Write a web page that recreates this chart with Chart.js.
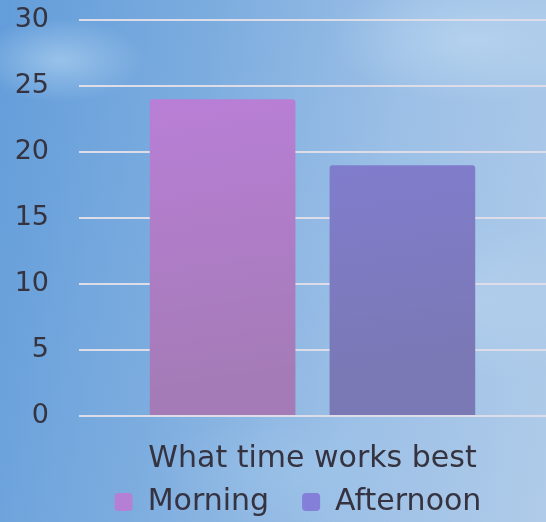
<!DOCTYPE html>
<html>
<head>
<meta charset="utf-8">
<script src="https://cdn.jsdelivr.net/npm/chart.js@4"></script>
<style>
  html, body { margin: 0; padding: 0; }
  #wrap {
    width: 546px; height: 522px; position: relative;
    background:
      radial-gradient(ellipse 120px 60px at 60px 60px, rgba(190,220,245,0.55), rgba(190,220,245,0) 70%),
      radial-gradient(ellipse 200px 90px at 470px 40px, rgba(200,225,245,0.5), rgba(200,225,245,0) 70%),
      radial-gradient(ellipse 160px 120px at 480px 300px, rgba(190,215,240,0.45), rgba(190,215,240,0) 70%),
      radial-gradient(ellipse 200px 80px at 300px 470px, rgba(160,200,235,0.4), rgba(160,200,235,0) 70%),
      linear-gradient(100deg, #639dda 0%, #7daddf 35%, #9bbfe6 65%, #afcbe9 100%);
  }
  canvas { position: absolute; left: 0; top: 0; }
</style>
</head>
<body>
<div id="wrap"><canvas id="chart" width="546" height="522"></canvas></div>
<script>
/* --------------- Data --------------------- */
const categories = ["What time works best"];
const seriesNames = ["Morning", "Afternoon"];
const morningValues = [24];
const afternoonValues = [19];
const yTicks = [0, 5, 10, 15, 20, 25, 30];

/* --------------- Bar fills (top colour, bottom colour) --------------------- */
const fills = [
  ["#c080e2", "#a47bb6"],
  ["#8581e2", "#7b78b6"],
];
const legendColors = ["#b57fd6", "#847fd8"];

const barFill = (idx) => (ctx) => {
  const chart = ctx.chart;
  const area = chart.chartArea;
  if (!area) return fills[idx][0];
  const g = chart.ctx.createLinearGradient(0, area.top, 60, area.bottom);
  g.addColorStop(0, fills[idx][0]);
  g.addColorStop(1, fills[idx][1]);
  return g;
};

const textColor = "#35333f";
const fontFamily = "'DejaVu Sans', sans-serif";

/* --------------- Legend sits a bit right and tight under the axis label --------------------- */
const legendShift = {
  id: "legendShift",
  afterLayout(chart) {
    const lg = chart.legend;
    if (!lg) return;
    lg.left += 25; lg.right += 25;
    lg.top -= 22; lg.bottom -= 22;
  },
};

/* --------------- Chart --------------------- */
new Chart(document.getElementById("chart"), {
  type: "bar",
  plugins: [legendShift],
  data: {
    labels: categories,
    datasets: [
      {
        label: seriesNames[0],
        data: morningValues,
        backgroundColor: barFill(0),
        borderRadius: { topLeft: 3, topRight: 3 },
        borderSkipped: "bottom",
        categoryPercentage: 0.77,
        barPercentage: 0.81,
      },
      {
        label: seriesNames[1],
        data: afternoonValues,
        backgroundColor: barFill(1),
        borderRadius: { topLeft: 3, topRight: 3 },
        borderSkipped: "bottom",
        categoryPercentage: 0.77,
        barPercentage: 0.81,
      },
    ],
  },
  options: {
    responsive: false,
    animation: false,
    layout: { padding: { top: 20, right: 0, left: 0, bottom: -27 } },
    plugins: {
      tooltip: { enabled: false },
      legend: {
        position: "bottom",
        labels: {
          color: textColor,
          font: { family: fontFamily, size: 30, lineHeight: 1 },
          boxWidth: 18,
          boxHeight: 18,
          padding: 33,
          useBorderRadius: true,
          borderRadius: 4,
          generateLabels: (chart) =>
            chart.data.datasets.map((ds, i) => ({
              text: ds.label,
              fillStyle: legendColors[i],
              strokeStyle: legendColors[i],
              lineWidth: 0,
              fontColor: textColor,
              borderRadius: 4,
              datasetIndex: i,
            })),
        },
      },
    },
    scales: {
      x: {
        grid: { display: false, drawTicks: false },
        border: { display: false },
        ticks: {
          color: textColor,
          font: { family: fontFamily, size: 30, lineHeight: 1 },
          padding: 28,
        },
        afterFit: (scale) => { scale.height = 60; },
      },
      y: {
        min: 0,
        max: 30,
        afterBuildTicks: (scale) => { scale.ticks = yTicks.map((v) => ({ value: v })); },
        grid: { color: "#dcdde8", lineWidth: 2, drawTicks: true, tickLength: 30, tickColor: "rgba(0,0,0,0)" },
        border: { display: false },
        ticks: {
          color: textColor,
          font: { family: fontFamily, size: 27, lineHeight: 1 },
          padding: 0,
        },
        afterFit: (scale) => { scale.width = 79; },
      },
    },
  },
});
</script>
</body>
</html>
